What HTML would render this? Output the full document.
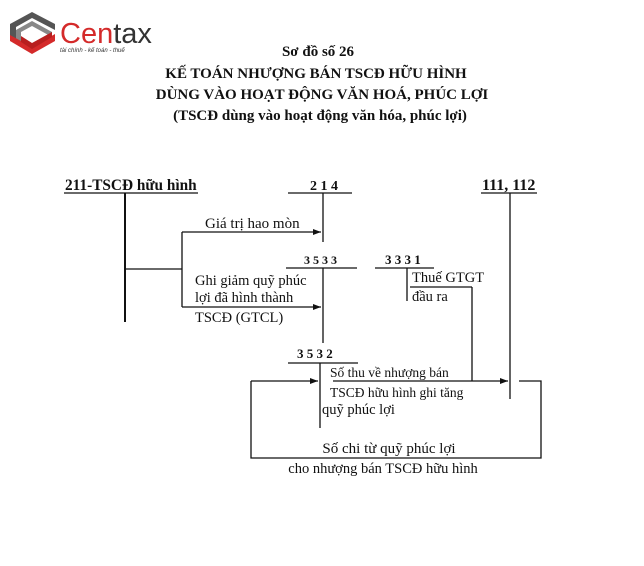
<!DOCTYPE html>
<html><head><meta charset="utf-8"><style>
html,body{margin:0;padding:0;background:#fff;}
svg{display:block;}
text{font-family:"Liberation Serif",serif;fill:#111;}
.b{font-weight:bold;}
</style></head><body>
<svg width="644" height="566" viewBox="0 0 644 566" xmlns="http://www.w3.org/2000/svg">
<defs><marker id="a" markerWidth="8" markerHeight="6" refX="8" refY="3" orient="auto" markerUnits="userSpaceOnUse"><path d="M0,0 L8,3 L0,6 Z" fill="#111"/></marker></defs>
<g>
<path d="M10,24 L32,12 L55,24 L55,30 L32,18 L16,27 L16,42 L10,39 Z" fill="#555"/>
<path d="M16,30 L32,21 L52,32 L52,37 L32,26 L21,32 L21,44 L16,42 Z" fill="#888"/>
<path d="M10,41 L32,54 L55,41 L55,34 L32,47 L10,35 Z" fill="#d42a2a"/>
<path d="M21,36 L32,43 L52,32 L52,37 L32,49 L21,42 Z" fill="#b81f1f"/>
<text x="60" y="43" style="font-family:'Liberation Sans',sans-serif;font-size:29px;fill:#d42a2a">Cen<tspan style="fill:#333">tax</tspan></text>
<text x="60" y="52" style="font-family:'Liberation Sans',sans-serif;font-size:6px;font-style:italic;fill:#333">tài chính - kế toán - thuế</text>
</g>
<g class="b" font-size="15" text-anchor="middle">
<text class="b" x="318" y="56">Sơ đồ số 26</text>
<text class="b" x="316" y="78">KẾ TOÁN NHƯỢNG BÁN TSCĐ HỮU HÌNH</text>
<text class="b" x="322" y="99">DÙNG VÀO HOẠT ĐỘNG VĂN HOÁ, PHÚC LỢI</text>
<text class="b" x="320" y="120">(TSCĐ dùng vào hoạt động văn hóa, phúc lợi)</text>
</g>
<g stroke="#111" stroke-width="1.3" fill="none">
<line x1="64" y1="193" x2="198" y2="193"/>
<line x1="125" y1="193" x2="125" y2="322" stroke-width="2"/>
<line x1="125" y1="269" x2="182" y2="269"/>
<line x1="182" y1="232" x2="182" y2="307"/>
<line x1="182" y1="232" x2="321" y2="232" marker-end="url(#a)"/>
<line x1="182" y1="307" x2="321" y2="307" marker-end="url(#a)"/>
<line x1="288" y1="193" x2="352" y2="193"/>
<line x1="323" y1="193" x2="323" y2="242"/>
<line x1="286" y1="268" x2="357" y2="268"/>
<line x1="323" y1="268" x2="323" y2="343"/>
<line x1="375" y1="268" x2="434" y2="268"/>
<line x1="407" y1="268" x2="407" y2="301"/>
<line x1="410" y1="287" x2="472" y2="287"/>
<line x1="472" y1="287" x2="472" y2="381"/>
<line x1="481" y1="193" x2="537" y2="193"/>
<line x1="510" y1="193" x2="510" y2="399"/>
<line x1="288" y1="363" x2="358" y2="363"/>
<line x1="320" y1="363" x2="320" y2="428"/>
<line x1="333" y1="381" x2="508" y2="381" marker-end="url(#a)"/>
<polyline points="519,381 541,381 541,458 251,458 251,381"/>
<line x1="251" y1="381" x2="318" y2="381" marker-end="url(#a)"/>
</g>
<g font-size="14.5">
<text class="b" x="65" y="190" font-size="15.3">211-TSCĐ hữu hình</text>
<text class="b" x="310" y="190" font-size="14">2 1 4</text>
<text x="205" y="228" font-size="15">Giá trị hao mòn</text>
<text class="b" x="304" y="264" font-size="12">3 5 3 3</text>
<text x="195" y="285">Ghi giảm quỹ phúc</text>
<text x="195" y="302">lợi đã hình thành</text>
<text x="195" y="322">TSCĐ (GTCL)</text>
<text class="b" x="385" y="264" font-size="13">3 3 3 1</text>
<text x="412" y="282">Thuế GTGT</text>
<text x="412" y="301">đầu ra</text>
<text class="b" x="482" y="190" font-size="16">111, 112</text>
<text class="b" x="297" y="358" font-size="13">3 5 3 2</text>
<text x="330" y="377" font-size="13.5">Số thu về nhượng bán</text>
<text x="330" y="397" font-size="13.5">TSCĐ hữu hình ghi tăng</text>
<text x="322" y="414">quỹ phúc lợi</text>
<text x="389" y="453" text-anchor="middle" font-size="15">Số chi từ quỹ phúc lợi</text>
<text x="383" y="473" text-anchor="middle" font-size="14.5">cho nhượng bán TSCĐ hữu hình</text>
</g>
</svg>
</body></html>
